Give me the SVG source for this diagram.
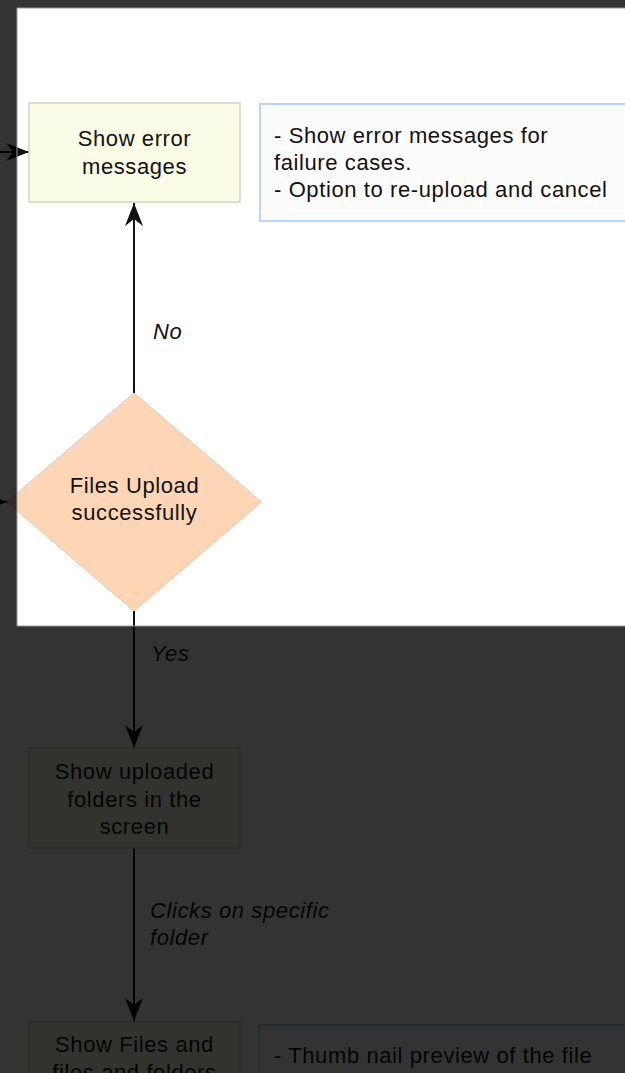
<svg xmlns="http://www.w3.org/2000/svg" width="625" height="1073" viewBox="0 0 625 1073">
<style>
.t{font-family:"Liberation Sans",Arial,sans-serif;font-size:22px;letter-spacing:0.6px;fill:#111}
.c{text-anchor:middle}
.lbl{font-style:italic}
.box{fill:#fafce6;stroke:#d2d4c0;stroke-width:1.5}
.note{fill:#fdfcfc;stroke:#b8d6fb;stroke-width:2}
.dia{fill:#ffd6b5;stroke:#e2c6ae;stroke-width:1}
.edge{fill:none;stroke:#111;stroke-width:2;marker-end:url(#arr)}
</style>
<defs>
<marker id="arr" markerUnits="userSpaceOnUse" viewBox="-24 -10 25 20" refX="0" refY="0" markerWidth="25" markerHeight="20" orient="auto">
<path d="M0,0 L-23,-9 L-16,0 L-23,9 Z" fill="#111"/>
</marker>
</defs>
<rect x="0" y="0" width="625" height="1073" fill="#fff"/>
<g id="connectors">
<path class="edge" d="M-10,152 L29,152"/>
<path class="edge" d="M-30,502 L7,502"/>
<path class="edge" d="M134,393 L134,203"/>
<path class="edge" d="M134,611 L134,748"/>
<path class="edge" d="M134,848 L134,1021"/>
<text class="t lbl" x="153" y="339">No</text>
<text class="t lbl" x="151" y="661">Yes</text>
<text class="t lbl" x="150" y="918">Clicks on specific</text>
<text class="t lbl" x="150" y="945">folder</text>
</g>
<g id="node-show-error">
<rect class="box" x="29" y="103" width="211" height="99"/>
<text class="t c" x="134.5" y="146">Show error</text>
<text class="t c" x="134.5" y="174">messages</text>
</g>
<g id="note-error">
<rect class="note" x="260" y="104" width="380" height="117"/>
<text class="t" x="274" y="143">- Show error messages for</text>
<text class="t" x="274" y="170">failure cases.</text>
<text class="t" x="274" y="196.5">- Option to re-upload and cancel</text>
</g>
<g id="node-upload-decision">
<polygon class="dia" points="134,393 261.5,502 134,611 6.8,502"/>
<text class="t c" x="134.5" y="493">Files Upload</text>
<text class="t c" x="134.5" y="520">successfully</text>
</g>
<g id="node-show-folders">
<rect class="box" x="29" y="748" width="211" height="100"/>
<text class="t c" x="134.5" y="779">Show uploaded</text>
<text class="t c" x="134.5" y="806.5">folders in the</text>
<text class="t c" x="134.5" y="834">screen</text>
</g>
<g id="node-show-files">
<rect class="box" x="29" y="1022" width="211" height="100"/>
<text class="t c" x="134.5" y="1052">Show Files and</text>
<text class="t c" x="134.5" y="1080">files and folders</text>
</g>
<g id="note-files">
<rect class="note" x="259" y="1025" width="380" height="100"/>
<text class="t" x="274" y="1063">- Thumb nail preview of the file</text>
</g>
<path d="M0,0 H625 V1073 H0 Z M17,8 V626 H625 V8 Z" fill="#000" fill-opacity="0.8" fill-rule="evenodd"/>
<path d="M625,8 H17 V626 H625" fill="none" stroke="#9a9a9a" stroke-width="1"/>
</svg>
